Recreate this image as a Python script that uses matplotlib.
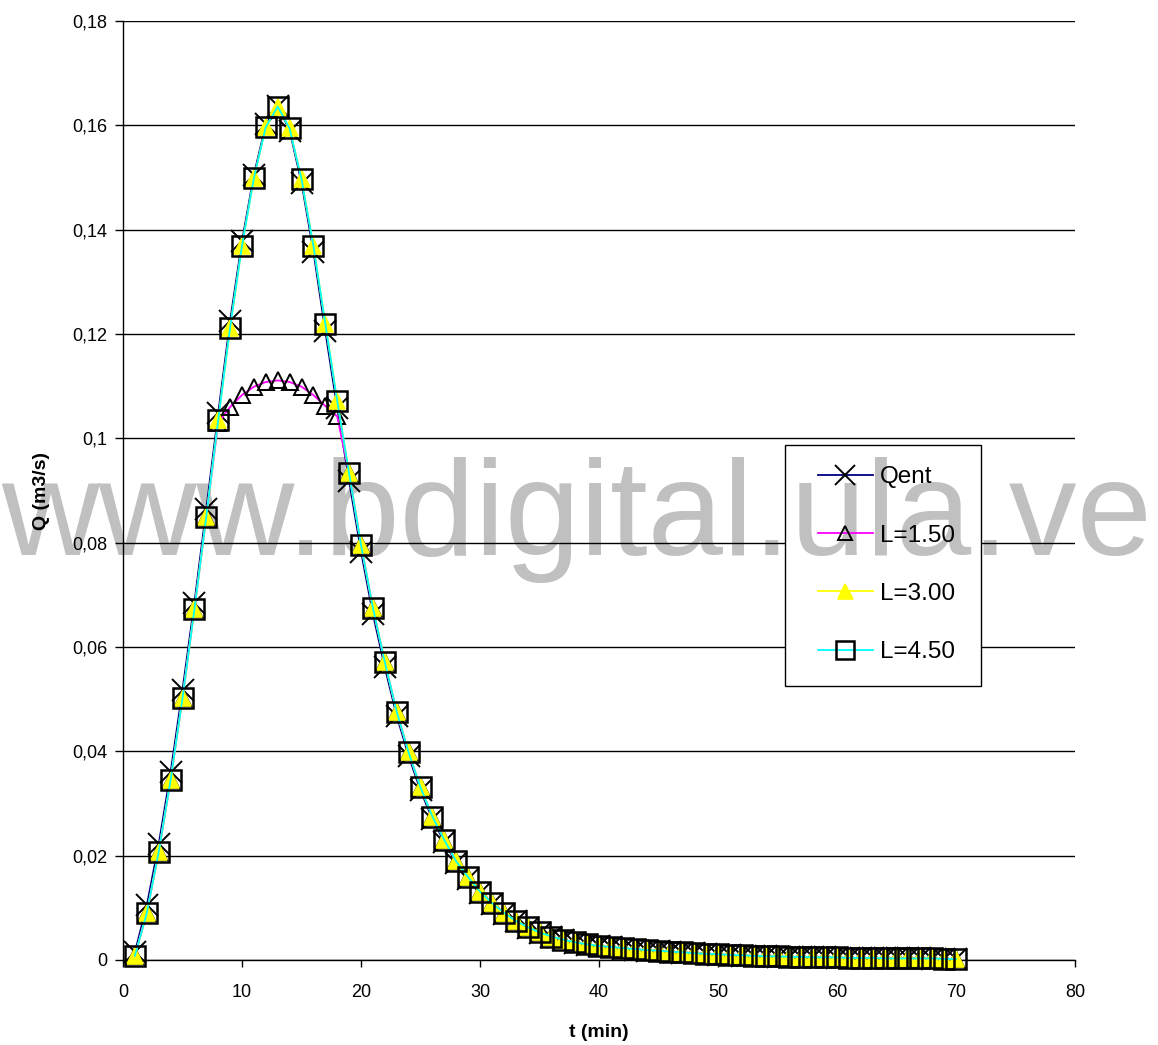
import matplotlib
matplotlib.use("Agg")
import matplotlib.pyplot as plt
from matplotlib.patches import Rectangle
from matplotlib.transforms import Bbox, TransformedBbox
from matplotlib.ticker import FuncFormatter, MultipleLocator

plt.rcParams['font.family'] = ['Liberation Sans', 'DejaVu Sans']

# Time axis (min)
t = list(range(1, 71))

# Inflow hydrograph
q_ent = [0.0015, 0.0105, 0.0222, 0.0360, 0.0518, 0.0685, 0.0865, 0.1048, 0.1225, 0.1378,
         0.1505, 0.1602, 0.1638, 0.1590, 0.1490, 0.1358, 0.1205, 0.1058, 0.0918, 0.0783,
         0.0663, 0.0561, 0.0468, 0.0391, 0.0325, 0.0270, 0.0226, 0.0186, 0.0156, 0.0129,
         0.0107, 0.0089, 0.0074, 0.0062, 0.0052, 0.0044, 0.0038, 0.0033, 0.0029, 0.0026,
         0.0024, 0.0022, 0.0020, 0.0018, 0.0017, 0.0015, 0.0014, 0.0013, 0.0012, 0.0010,
         0.0009, 0.0008, 0.0007, 0.0007, 0.0006, 0.0006, 0.0005, 0.0005, 0.0005, 0.0004,
         0.0004, 0.0004, 0.0003, 0.0003, 0.0003, 0.0003, 0.0003, 0.0002, 0.0002, 0.0002]

# Outflow, L = 1.50
q_l150 = [0.0008, 0.0090, 0.0207, 0.0345, 0.0502, 0.0672, 0.0850, 0.1030, 0.1060, 0.1083,
          0.1099, 0.1108, 0.1111, 0.1108, 0.1099, 0.1083, 0.1062, 0.1042, 0.0933, 0.0796,
          0.0675, 0.0571, 0.0476, 0.0398, 0.0331, 0.0275, 0.0230, 0.0189, 0.0159, 0.0131,
          0.0109, 0.0091, 0.0075, 0.0063, 0.0053, 0.0045, 0.0039, 0.0034, 0.0030, 0.0027,
          0.0025, 0.0023, 0.0021, 0.0019, 0.0018, 0.0016, 0.0015, 0.0013, 0.0012, 0.0011,
          0.0010, 0.0009, 0.0008, 0.0007, 0.0007, 0.0006, 0.0006, 0.0005, 0.0005, 0.0005,
          0.0004, 0.0004, 0.0004, 0.0003, 0.0003, 0.0003, 0.0003, 0.0003, 0.0002, 0.0002]

# Outflow, L = 3.00
q_l300 = [0.0008, 0.0090, 0.0207, 0.0345, 0.0502, 0.0672, 0.0850, 0.1035, 0.1212, 0.1369,
          0.1499, 0.1597, 0.1636, 0.1594, 0.1497, 0.1369, 0.1220, 0.1072, 0.0933, 0.0796,
          0.0675, 0.0571, 0.0476, 0.0398, 0.0331, 0.0275, 0.0230, 0.0189, 0.0159, 0.0131,
          0.0109, 0.0091, 0.0075, 0.0063, 0.0053, 0.0045, 0.0039, 0.0034, 0.0030, 0.0027,
          0.0025, 0.0023, 0.0021, 0.0019, 0.0018, 0.0016, 0.0015, 0.0013, 0.0012, 0.0011,
          0.0010, 0.0009, 0.0008, 0.0007, 0.0007, 0.0006, 0.0006, 0.0005, 0.0005, 0.0005,
          0.0004, 0.0004, 0.0004, 0.0003, 0.0003, 0.0003, 0.0003, 0.0003, 0.0002, 0.0002]

# Outflow, L = 4.50
q_l450 = [0.0008, 0.0090, 0.0207, 0.0345, 0.0502, 0.0672, 0.0850, 0.1035, 0.1212, 0.1369,
          0.1499, 0.1597, 0.1636, 0.1594, 0.1497, 0.1369, 0.1220, 0.1072, 0.0933, 0.0796,
          0.0675, 0.0571, 0.0476, 0.0398, 0.0331, 0.0275, 0.0230, 0.0189, 0.0159, 0.0131,
          0.0109, 0.0091, 0.0075, 0.0063, 0.0053, 0.0045, 0.0039, 0.0034, 0.0030, 0.0027,
          0.0025, 0.0023, 0.0021, 0.0019, 0.0018, 0.0016, 0.0015, 0.0013, 0.0012, 0.0011,
          0.0010, 0.0009, 0.0008, 0.0007, 0.0007, 0.0006, 0.0006, 0.0005, 0.0005, 0.0005,
          0.0004, 0.0004, 0.0004, 0.0003, 0.0003, 0.0003, 0.0003, 0.0003, 0.0002, 0.0002]

series_labels = ["Qent", "L=1.50", "L=3.00", "L=4.50"]
watermark = "www.bdigital.ula.ve"

W, H = 1158, 1045
fig = plt.figure(figsize=(W / 100, H / 100), dpi=100)
fig.patch.set_facecolor('white')
ax = fig.add_axes([123 / W, (H - 960) / H, 952 / W, 939 / H])
ax.patch.set_visible(False)

wm_kw = dict(ha='center', va='baseline', fontsize=97.5, color='#c0c0c0',
             family=['Liberation Sans', 'DejaVu Sans'])
wm_xy = (577 / W, (H - 555) / H)
# stamp sits underneath the plot contents
fig.text(*wm_xy, watermark, zorder=-1, **wm_kw)

ax.plot(t, q_ent, color='#000080', lw=1.3, marker='x', ms=16, mec='black',
        mew=1.4, label=series_labels[0], zorder=3, clip_on=False)
ax.plot(t, q_l150, color='#ff00ff', lw=1.3, marker='^', ms=11, mfc='none',
        mec='black', mew=1.4, label=series_labels[1], zorder=4, clip_on=False)
ax.plot(t, q_l300, color='#ffff00', lw=1.3, marker='^', ms=12, mfc='#ffff00',
        mec='#ffff00', mew=1.2, label=series_labels[2], zorder=5, clip_on=False)
ax.plot(t, q_l450, color='#00ffff', lw=1.3, marker='s', ms=14, mfc='none',
        mec='black', mew=1.8, label=series_labels[3], zorder=6, clip_on=False)

ax.set_xlim(0, 80)
ax.set_ylim(0, 0.18)
ax.xaxis.set_major_locator(MultipleLocator(10))
ax.yaxis.set_major_locator(MultipleLocator(0.02))
ax.yaxis.set_major_formatter(FuncFormatter(
    lambda v, p: "0" if abs(v) < 1e-12 else (f"{v:.2f}".rstrip('0').replace('.', ','))))

ax.grid(axis='y', color='black', lw=1.0)
ax.set_axisbelow(True)
for gl in ax.get_ygridlines()[-1:]:
    gl.set_visible(False)

for s in ('top', 'right'):
    ax.spines[s].set_visible(False)
for s in ('left', 'bottom'):
    ax.spines[s].set_color('black')
    ax.spines[s].set_linewidth(1.0)

ax.tick_params(axis='y', direction='out', length=6, width=1, pad=5, labelsize=13)
ax.tick_params(axis='x', direction='out', length=5, width=1, pad=12, labelsize=13)

ax.set_xlabel("t (min)", fontsize=14, fontweight='bold', labelpad=17)
ax.set_ylabel("Q (m3/s)", fontsize=14, fontweight='bold', labelpad=16)

# legend box: white panel over the grid, stamp shows through, entries on top
box_ext = (0.695, 0.292, 0.901, 0.548)
box = Rectangle((box_ext[0], box_ext[1]), box_ext[2] - box_ext[0], box_ext[3] - box_ext[1],
                transform=ax.transAxes, facecolor='white', edgecolor='black', lw=1.0,
                zorder=8, clip_on=False)
ax.add_patch(box)
wm_box = ax.text(*wm_xy, watermark, transform=fig.transFigure, zorder=8.5, **wm_kw)
wm_box.set_clip_on(True)
wm_box.set_clip_box(TransformedBbox(Bbox.from_extents(*box_ext), ax.transAxes))

leg = ax.legend(loc='upper left', bbox_to_anchor=(0.730, 0.5256), fontsize=17.5,
                frameon=False, handlelength=2.26, handletextpad=0.29,
                labelspacing=1.49, borderpad=0, borderaxespad=0, markerscale=0.9)
leg.set_zorder(10)

fig.savefig("out.png", dpi=100, facecolor='white')
